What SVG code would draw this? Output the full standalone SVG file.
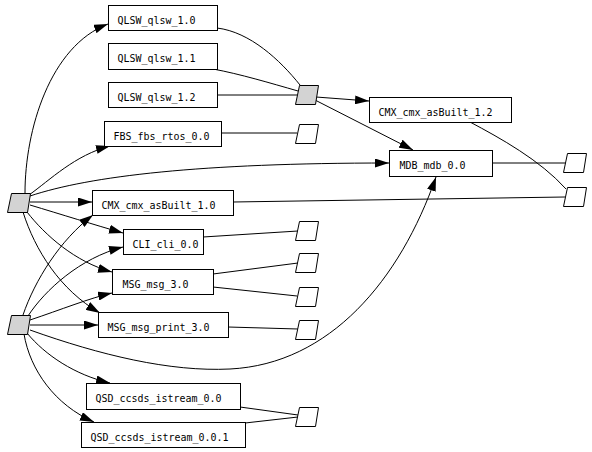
<svg xmlns="http://www.w3.org/2000/svg" width="592" height="452" viewBox="0 0 592 452">
<style>
.box{fill:#fff;stroke:#000;stroke-width:1}
.pg{fill:#d3d3d3;stroke:#000;stroke-width:1}
.pw{fill:#fff;stroke:#000;stroke-width:1}
.lbl{font-family:"DejaVu Sans Mono","Liberation Mono",monospace;font-size:11px;fill:#000}
.e{fill:none;stroke:#000;stroke-width:1}
.a{marker-end:url(#arr)}
</style>
<defs>
<marker id="arr" markerUnits="userSpaceOnUse" viewBox="0 0 14 9" refX="14" refY="4.5" markerWidth="14" markerHeight="9" orient="auto">
<path d="M0,0 L14,4.5 L0,9 z" fill="#000"/>
</marker>
</defs>
<rect width="592" height="452" fill="#fff"/>
<g id="edges">
<path class="e a" d="M25,193 C25,130 50,46 108,24"/>
<path class="e a" d="M29,195 C50,180 75,155 110,146"/>
<path class="e a" d="M30,196 C90,176 200,163 389,163"/>
<path class="e a" d="M30,202 L92,202"/>
<path class="e a" d="M30,205 C60,214 95,225 123,233"/>
<path class="e a" d="M27,212 C45,235 75,262 112,272"/>
<path class="e a" d="M23,212 C35,250 60,290 100,313"/>
<path class="e a" d="M23,315 C35,280 60,240 93,215"/>
<path class="e a" d="M28,316 C45,290 80,258 123,247"/>
<path class="e a" d="M30,320 C60,310 90,298 112,293"/>
<path class="e a" d="M30,325 L98,325"/>
<path class="e a" d="M30,330 C100,355 170,372 230,369 C330,364 400,280 436,177"/>
<path class="e a" d="M27,333 C45,355 75,375 110,383"/>
<path class="e a" d="M24,334 C30,370 55,405 94,422"/>
<path class="e a" d="M316,97 L369,101"/>
<path class="e a" d="M315,100 L413,150"/>
<path class="e" d="M217,28 C250,32 280,60 300,85"/>
<path class="e" d="M213,69 C240,74 270,83 298,91"/>
<path class="e" d="M217,95 L297,95"/>
<path class="e" d="M221,133 L297,133"/>
<path class="e" d="M470,122 C500,138 540,160 566,189"/>
<path class="e" d="M492,163 L566,163"/>
<path class="e" d="M233,202 L565,197"/>
<path class="e" d="M203,237 L298,231"/>
<path class="e" d="M213,274 L298,263"/>
<path class="e" d="M213,287 L297,296"/>
<path class="e" d="M228,327 L298,329"/>
<path class="e" d="M240,407 L298,415"/>
<path class="e" d="M245,423 L298,417"/>
</g>
<g id="n_qlsw10"><rect class="box" x="108.5" y="5.5" width="109" height="25"/><text class="lbl" x="117.5" y="24" textLength="78" lengthAdjust="spacingAndGlyphs">QLSW_qlsw_1.0</text></g>
<g id="n_qlsw11"><rect class="box" x="108.5" y="43.5" width="109" height="26"/><text class="lbl" x="117.5" y="62" textLength="78" lengthAdjust="spacingAndGlyphs">QLSW_qlsw_1.1</text></g>
<g id="n_qlsw12"><rect class="box" x="108.5" y="82.5" width="109" height="25"/><text class="lbl" x="117.5" y="101" textLength="78" lengthAdjust="spacingAndGlyphs">QLSW_qlsw_1.2</text></g>
<g id="n_fbs"><rect class="box" x="104.5" y="121.5" width="117" height="25"/><text class="lbl" x="113.5" y="140" textLength="96" lengthAdjust="spacingAndGlyphs">FBS_fbs_rtos_0.0</text></g>
<g id="n_cmx12"><rect class="box" x="369.5" y="97.5" width="142" height="25"/><text class="lbl" x="378.5" y="116" textLength="114" lengthAdjust="spacingAndGlyphs">CMX_cmx_asBuilt_1.2</text></g>
<g id="n_mdb"><rect class="box" x="389.5" y="150.5" width="103" height="26"/><text class="lbl" x="399.5" y="169" textLength="66" lengthAdjust="spacingAndGlyphs">MDB_mdb_0.0</text></g>
<g id="n_cmx10"><rect class="box" x="92.5" y="190.5" width="141" height="25"/><text class="lbl" x="101.5" y="209" textLength="114" lengthAdjust="spacingAndGlyphs">CMX_cmx_asBuilt_1.0</text></g>
<g id="n_cli"><rect class="box" x="123.5" y="229.5" width="80" height="25"/><text class="lbl" x="132.5" y="248" textLength="66" lengthAdjust="spacingAndGlyphs">CLI_cli_0.0</text></g>
<g id="n_msg"><rect class="box" x="112.5" y="269.5" width="101" height="25"/><text class="lbl" x="122.5" y="288" textLength="66" lengthAdjust="spacingAndGlyphs">MSG_msg_3.0</text></g>
<g id="n_msgp"><rect class="box" x="98.5" y="312.5" width="130" height="25"/><text class="lbl" x="107.5" y="331" textLength="102" lengthAdjust="spacingAndGlyphs">MSG_msg_print_3.0</text></g>
<g id="n_qsd00"><rect class="box" x="86.5" y="383.5" width="154" height="26"/><text class="lbl" x="95.5" y="402" textLength="126" lengthAdjust="spacingAndGlyphs">QSD_ccsds_istream_0.0</text></g>
<g id="n_qsd001"><rect class="box" x="81.5" y="422.5" width="164" height="25"/><text class="lbl" x="90.5" y="441" textLength="138" lengthAdjust="spacingAndGlyphs">QSD_ccsds_istream_0.0.1</text></g>
<g id="p_g1"><polygon class="pg" points="11.5,193.5 30.5,193.5 27.5,212.5 7.5,212.5"/></g>
<g id="p_g2"><polygon class="pg" points="11.5,315.5 30.5,315.5 27.5,334.5 7.5,334.5"/></g>
<g id="p_g3"><polygon class="pg" points="299.5,85.5 318.5,85.5 315.5,104.5 295.5,104.5"/></g>
<g id="p_fbs"><polygon class="pw" points="299.5,124.5 318.5,124.5 315.5,143.5 295.5,143.5"/></g>
<g id="p_cli"><polygon class="pw" points="299.5,221.5 318.5,221.5 315.5,240.5 295.5,240.5"/></g>
<g id="p_msg1"><polygon class="pw" points="299.5,253.5 318.5,253.5 315.5,272.5 295.5,272.5"/></g>
<g id="p_msg2"><polygon class="pw" points="299.5,287.5 318.5,287.5 315.5,306.5 295.5,306.5"/></g>
<g id="p_msgp"><polygon class="pw" points="299.5,320.5 318.5,320.5 315.5,339.5 295.5,339.5"/></g>
<g id="p_qsd"><polygon class="pw" points="299.5,407.5 318.5,407.5 315.5,426.5 295.5,426.5"/></g>
<g id="p_mdb"><polygon class="pw" points="567.5,153.5 586.5,153.5 583.5,172.5 563.5,172.5"/></g>
<g id="p_cmx"><polygon class="pw" points="567.5,187.5 586.5,187.5 583.5,206.5 563.5,206.5"/></g>
</svg>
